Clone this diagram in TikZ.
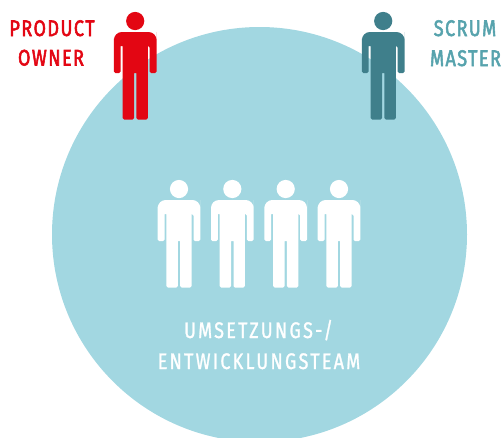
\documentclass[tikz,border=0pt]{standalone}
\usepackage{fontspec}
\setmainfont{Fira Sans}
\newfontfamily\colf[FakeStretch=0.8,LetterSpace=6.5,FakeBold=2.4]{Fira Sans}
\newfontfamily\whf[FakeStretch=0.8,LetterSpace=10,FakeBold=1.2]{Fira Sans}
\definecolor{circ}{HTML}{A2D7E1}
\definecolor{po}{HTML}{E30613}
\definecolor{sm}{HTML}{3F7F8B}
\definecolor{smtext}{HTML}{57A3AD}
\tikzset{
  x=1pt,y=-1pt,
  lab/.style={inner sep=0pt,anchor=base,font=\fontsize{22.5}{22.5}\colf},
  labw/.style={inner sep=0pt,anchor=base,text=white,font=\fontsize{22.5}{22.5}\whf},
  person/.pic={
    \fill[pic actions] (0,0) circle[radius=9.1];
    \fill[pic actions,rounded corners=1.5]
      (-21.3,52) -- (-21.3,19) [rounded corners=8] -- (-21.3,11) -- (21.3,11) -- (21.3,19) [rounded corners=1.5]
      -- (21.3,52) -- (14.5,52) -- (14.5,25) [sharp corners] -- (12.6,25) [rounded corners=1.5]
      -- (12.6,98.5) -- (1.2,98.5) [sharp corners] -- (1.2,52) -- (-1.2,52) [rounded corners=1.5] -- (-1.2,98.5) -- (-12.6,98.5)
      [sharp corners] -- (-12.6,25) -- (-14.5,25) [rounded corners=1.5] -- (-14.5,52) -- cycle;
  }
}
\begin{document}
\begin{tikzpicture}
\useasboundingbox (0,0) rectangle (503,437);
\clip (0,0) rectangle (503,437);
\fill[circ] (259.5,234.5) circle[radius=207.5];
\pic[po] at (135.2,21) {person};
\pic[sm] at (383.2,21) {person};
\foreach \hx in {179,232.3,285.7,339} \pic[white] at (\hx,189) {person};
\node[lab,text=po] (prod) at (52,36) {PRODUCT};
\node[lab,text=po] (own) at (51,65.5) {OWNER};
\node[lab,text=smtext] (scr) at (465,36) {SCRUM};
\node[lab,text=smtext] (mas) at (465.5,66) {MASTER};
\node[labw] (ums) at (258.5,338) {UMSETZUNGS-/};
\node[labw] (ent) at (259,369) {ENTWICKLUNGSTEAM};
\end{tikzpicture}
\end{document}
